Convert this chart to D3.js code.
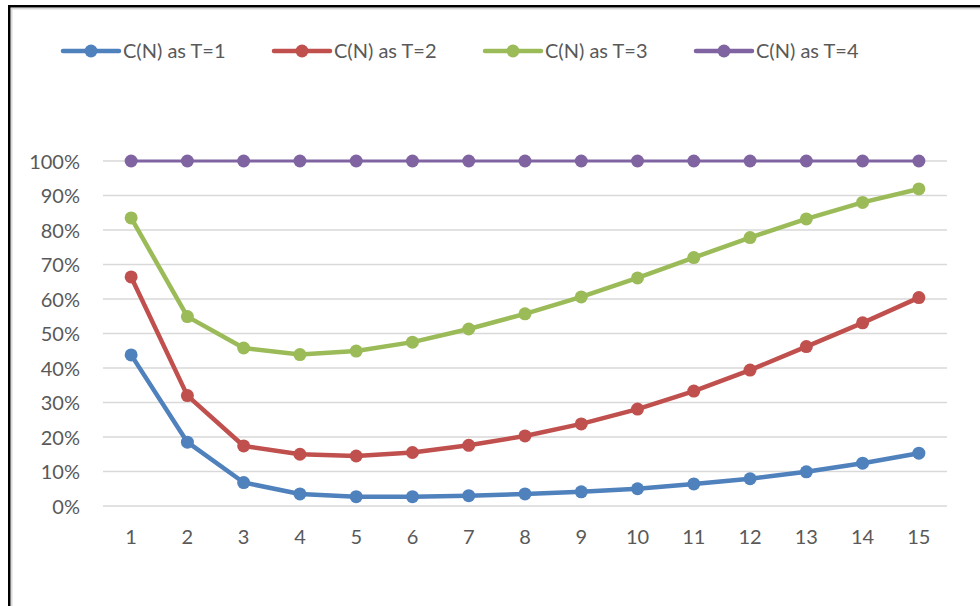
<!DOCTYPE html>
<html>
<head>
<meta charset="utf-8">
<script src="https://cdn.jsdelivr.net/npm/d3@7"></script>
<style>
  html, body { margin: 0; padding: 0; background: #fff; }
  svg { display: block; }
  text { font-family: Lato, "Open Sans", sans-serif; fill: #595959; }
</style>
</head>
<body>
<svg id="chart" width="980" height="606"></svg>
<script>
// Categories along the x axis
const categories = [1, 2, 3, 4, 5, 6, 7, 8, 9, 10, 11, 12, 13, 14, 15];

// Series values (fractions of 1)
const seriesNames = ["C(N) as T=1", "C(N) as T=2", "C(N) as T=3", "C(N) as T=4"];
const valuesT1 = [0.438, 0.185, 0.068, 0.035, 0.027, 0.027, 0.030, 0.035, 0.041, 0.050, 0.064, 0.079, 0.099, 0.124, 0.153];
const valuesT2 = [0.664, 0.320, 0.174, 0.150, 0.145, 0.155, 0.176, 0.203, 0.238, 0.281, 0.333, 0.394, 0.462, 0.531, 0.604];
const valuesT3 = [0.835, 0.549, 0.458, 0.439, 0.449, 0.475, 0.513, 0.557, 0.606, 0.661, 0.720, 0.778, 0.832, 0.880, 0.919];
const valuesT4 = [1, 1, 1, 1, 1, 1, 1, 1, 1, 1, 1, 1, 1, 1, 1];

// Y tick labels
const yTicks = [0, 0.1, 0.2, 0.3, 0.4, 0.5, 0.6, 0.7, 0.8, 0.9, 1.0];

const colors = ["#4F81BD", "#C0504D", "#9BBB59", "#8064A2"];
const lineWidths = [4.5, 4.5, 4.5, 3];
const fontSize = 20;

const series = [valuesT1, valuesT2, valuesT3, valuesT4].map((v, i) => ({
  name: seriesNames[i], values: v, color: colors[i], width: lineWidths[i]
}));

const svg = d3.select("#chart");

// Frame edges
svg.append("rect").attr("x", 11).attr("y", 8).attr("width", 969).attr("height", 1.5).attr("fill", "#d9d9d9");
svg.append("rect").attr("x", 11).attr("y", 8).attr("width", 1.5).attr("height", 598).attr("fill", "#d9d9d9");
svg.append("rect").attr("x", 8).attr("y", 5).attr("width", 972).attr("height", 2.5).attr("fill", "#000");
svg.append("rect").attr("x", 8).attr("y", 5).attr("width", 2.5).attr("height", 601).attr("fill", "#000");

const plot = { left: 103, right: 947, top: 161, bottom: 506 };

const x = d3.scaleBand().domain(categories).range([plot.left, plot.right]);
const y = d3.scaleLinear().domain([0, 1]).range([plot.bottom, plot.top]);

// Horizontal gridlines
svg.append("g")
  .selectAll("line")
  .data(yTicks)
  .join("line")
  .attr("x1", plot.left).attr("x2", plot.right)
  .attr("y1", d => y(d)).attr("y2", d => y(d))
  .attr("stroke", "#d9d9d9").attr("stroke-width", 1.5);

// Y axis labels
const yAxis = d3.axisLeft(y).tickValues(yTicks).tickFormat(d3.format(".0%")).tickSize(0).tickPadding(0);
const gy = svg.append("g").attr("transform", "translate(80,0)").call(yAxis);
gy.select(".domain").remove();
gy.selectAll("text").attr("font-size", fontSize).attr("fill", "#595959").attr("dy", "0.35em")
  .style("font-family", "Lato, 'Open Sans', sans-serif");

// X axis labels
const xAxis = d3.axisBottom(x).tickSize(0).tickPadding(0);
const gx = svg.append("g").attr("transform", "translate(0,537)").call(xAxis);
gx.select(".domain").remove();
gx.selectAll("text").attr("font-size", fontSize).attr("fill", "#595959").attr("dy", "0.35em").attr("y", 0)
  .style("font-family", "Lato, 'Open Sans', sans-serif");

const cx = d => x(d) + x.bandwidth() / 2;

const line = d3.line()
  .x((d, i) => cx(categories[i]))
  .y(d => y(d));

const g = svg.append("g");
series.forEach(s => {
  g.append("path")
    .datum(s.values)
    .attr("d", line)
    .attr("fill", "none")
    .attr("stroke", s.color)
    .attr("stroke-width", s.width)
    .attr("stroke-linejoin", "round")
    .attr("stroke-linecap", "round");
  g.append("g")
    .selectAll("circle")
    .data(s.values)
    .join("circle")
    .attr("cx", (d, i) => cx(categories[i]))
    .attr("cy", d => y(d))
    .attr("r", 6.5)
    .attr("fill", s.color);
});

// Legend
const legendX = [63, 274, 485, 696];
const legend = svg.append("g").attr("transform", "translate(0,51)");
series.forEach((s, i) => {
  const lg = legend.append("g").attr("transform", `translate(${legendX[i]},0)`);
  lg.append("line").attr("x1", 0).attr("x2", 56).attr("y1", 0).attr("y2", 0)
    .attr("stroke", s.color).attr("stroke-width", 4.5).attr("stroke-linecap", "round");
  lg.append("circle").attr("cx", 28).attr("cy", 0).attr("r", 6.5).attr("fill", s.color);
  lg.append("text").attr("x", 60).attr("y", 0).attr("dy", "0.35em")
    .attr("font-size", fontSize).text(s.name);
});
</script>
</body>
</html>
